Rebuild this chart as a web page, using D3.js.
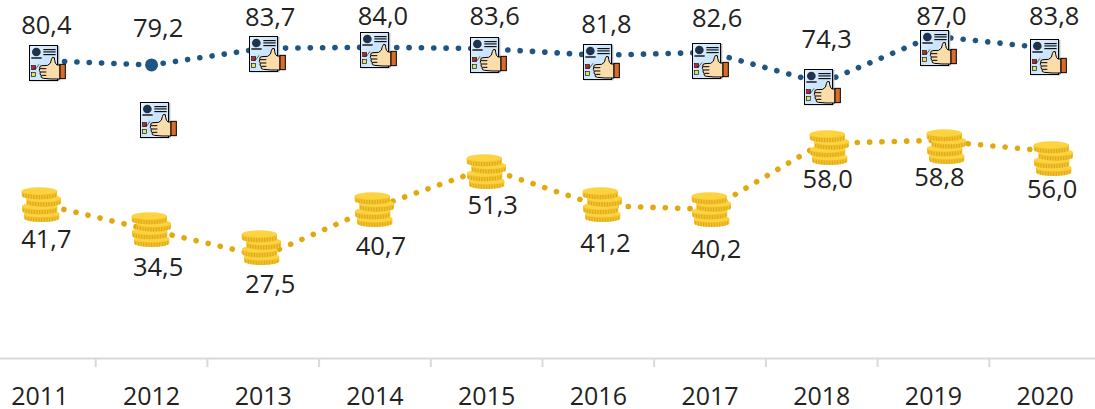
<!DOCTYPE html>
<html><head><meta charset="utf-8">
<style>html,body{margin:0;background:#fff;overflow:hidden}text{font-family:"Open Sans","Noto Sans",sans-serif;fill:#222}</style>
<script src="https://cdn.jsdelivr.net/npm/d3@7"></script></head>
<body><svg id="c" width="1095" height="409"></svg>
<script>
const years=["2011","2012","2013","2014","2015","2016","2017","2018","2019","2020"];
const blueValues=[80.4,79.2,83.7,84.0,83.6,81.8,82.6,74.3,87.0,83.8];
const goldValues=[41.7,34.5,27.5,40.7,51.3,41.2,40.2,58.0,58.8,56.0];

// layout offsets relative to the scaled point, kept apart from the data
const blueIconOff=[[-11,-16],[-12,37],[-14,-12],[-15,-15],[-17,-12],[-15,-11],[-18,-9],[-18,-14],[-13,-6],[-15,-9]];
const goldIconOff=[[-18,-18],[-20,-19],[-21,-27],[-20,-16],[-20,-15],[-15,-20],[-18,-18],[-12,-14],[-6,-12],[-11,-11]];
const blueLabelOff=[[6.5,-27],[6.5,-28],[7,-22],[8,-22],[8,-24],[8,-22],[7,-25],[5,-35],[8,-11],[9,-23]];
const goldLabelOff=[[6.5,44],[6.5,46],[7,37],[6,48],[6,46],[7,46],[6,49],[6,45],[6,46],[7,47]];

const W=1095,H=409,axisY=358;
const svg=d3.select("#c");
const x=d3.scaleBand().domain(years).range([-16,1101]);
const cx=d=>x(d)+x.bandwidth()/2;
const y=d3.scaleLinear().domain([0,90]).range([axisY,axisY-333]);

const defs=svg.append("defs");
const g=defs.append("linearGradient").attr("id","paper").attr("x1",0).attr("y1",0).attr("x2",1).attr("y2",1);
g.append("stop").attr("offset","0").attr("stop-color","#e6f3ff");
g.append("stop").attr("offset","0.5").attr("stop-color","#c9e4fc");
g.append("stop").attr("offset","1").attr("stop-color","#eaf4fe");

// document + thumb icon, drawn in 3x units
const doc=defs.append("g").attr("id","doc").attr("transform","scale(0.3333)");
doc.append("rect").attr("x",3).attr("y",3).attr("width",88).attr("height",106).attr("fill","#a9b3bd");
doc.append("rect").attr("x",1.5).attr("y",1.5).attr("width",84).attr("height",105).attr("fill","url(#paper)").attr("stroke","#000").attr("stroke-width",3);
doc.append("circle").attr("cx",22).attr("cy",21).attr("r",13).attr("fill","#1f344c");
[14,21,29].forEach(v=>doc.append("rect").attr("x",43).attr("y",v-2).attr("width",37).attr("height",3.5).attr("fill","#111"));
doc.append("rect").attr("x",7).attr("y",37).attr("width",31).attr("height",4).attr("fill","#000");
doc.append("rect").attr("x",8).attr("y",62).attr("width",12).attr("height",12).attr("fill","#c1272d").attr("stroke","#111").attr("stroke-width",2);
doc.append("rect").attr("x",8).attr("y",83).attr("width",12).attr("height",12).attr("fill","#dbe36a").attr("stroke","#111").attr("stroke-width",2);
doc.append("path").attr("d","M14 68L20 72L30 58").attr("fill","none").attr("stroke","#222").attr("stroke-width",2);
doc.append("path").attr("d","M93 60L84 60Q78 56 77 46L76 38Q69 34 67 44Q67 56 56 61L39 62Q31 62 32 70Q29 77 34 81Q31 88 36 91Q35 100 43 100L66 102L93 102Z")
  .attr("fill","#fbdcab").attr("stroke","#000").attr("stroke-width",3).attr("stroke-linejoin","round");
doc.append("path").attr("d","M33 71H52M35 81H52M37 91H52").attr("fill","none").attr("stroke","#000").attr("stroke-width",3);
doc.append("rect").attr("x",93).attr("y",58).attr("width",16).attr("height",43).attr("fill","#d96c2c").attr("stroke","#000").attr("stroke-width",3);

// coin stack, drawn in 3x units
const coinSide=d3.range(-48,49,8);
const coins=defs.append("g").attr("id","coins").attr("transform","scale(0.3333)");
[[59,83,53],[53,60,53],[65,37,52],[52,15,53]].forEach(([cxc,cyc,rx])=>{
  const c=coins.append("g").attr("transform",`translate(${cxc},${cyc})`);
  c.append("path").attr("d",`M${-rx} 0V14A${rx} 11 0 0 0 ${rx} 14V0Z`).attr("fill","#f4c22a");
  coinSide.forEach(t=>{
    const k=Math.sqrt(Math.max(0,1-(t*t)/(rx*rx)));
    c.append("path").attr("d",`M${t} ${6+6*k}V${14+11*k}`).attr("stroke","#cf9a14").attr("stroke-width",2);
  });
  c.append("ellipse").attr("rx",rx).attr("ry",11).attr("fill","#fdd33f");
});

const line=d3.line().x((d,i)=>cx(years[i])).y(d=>y(d));
function series(vals,color,iconId,iconOff,labelOff){
  svg.append("path").datum(vals).attr("d",line).attr("fill","none").attr("stroke",color)
    .attr("stroke-width",5.6).attr("stroke-linecap","round").attr("stroke-dasharray","0.1 12.25");
  svg.append("g").selectAll("use").data(vals).join("use").attr("href",iconId)
    .attr("x",(d,i)=>Math.round(cx(years[i])+iconOff[i][0])).attr("y",(d,i)=>Math.round(y(d)+iconOff[i][1]));
  svg.append("g").selectAll("text").data(vals).join("text")
    .attr("x",(d,i)=>cx(years[i])+labelOff[i][0]).attr("y",(d,i)=>y(d)+labelOff[i][1])
    .attr("text-anchor","middle").style("font-size","25.5px")
    .text(d=>d.toFixed(1).replace(".",","));
}
series(blueValues,"#1f5583","#doc",blueIconOff,blueLabelOff);
series(goldValues,"#e2a90f","#coins",goldIconOff,goldLabelOff);
// the single round marker of 2012
svg.append("circle").attr("cx",cx("2012")).attr("cy",y(blueValues[1])).attr("r",6.5).attr("fill","#1f5583");

// axis
const ax=svg.append("g").attr("transform",`translate(0,${axisY})`)
  .call(d3.axisBottom(x).tickSize(0).tickPadding(29));
ax.select(".domain").attr("stroke","#d9d9d9").attr("stroke-width",2);
ax.selectAll("text").style("font-size","25px").attr("fill","#222");
ax.selectAll("line.sep").data(years.slice(1)).join("line").attr("class","sep")
  .attr("x1",d=>x(d)).attr("x2",d=>x(d)).attr("y1",0).attr("y2",9)
  .attr("stroke","#d9d9d9").attr("stroke-width",2);
</script></body></html>
